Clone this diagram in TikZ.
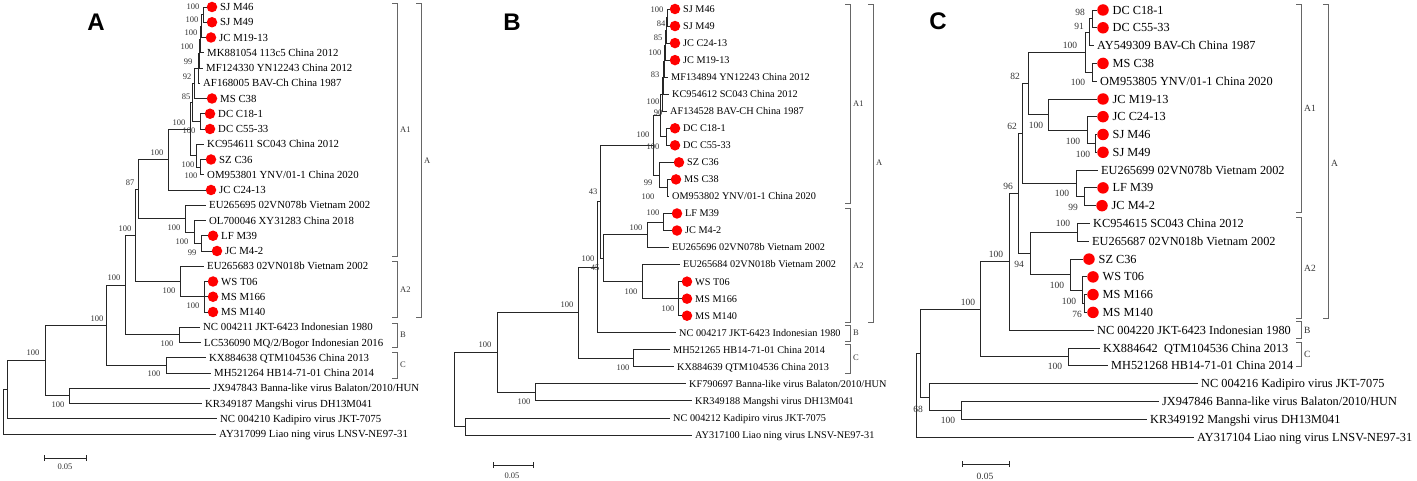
\documentclass[tikz,border=0pt]{standalone}
\usepackage{fontspec}
\setmainfont{Liberation Serif}
\newfontfamily\lettfont{Liberation Sans}
\newcounter{bsc}
\newcommand\ptip[5]{\coordinate (#1) at (#2,#3);\node[#5] (#1-t) at ([xshift=3pt]#1) {#4};}
\newcommand\dtip[6]{\node[#6] (#1-d) at (#2,#3) {};\coordinate (#1) at (#1-d.west);\node[#5] (#1-t) at ([xshift=\dgap]#1-d.center) {#4};}
\newcommand\kids[2]{\foreach \k in {#2}{\draw[br] (#1) |- (\k);}}
\newcommand\bs[4]{\stepcounter{bsc}\node[#1] (bs\thebsc) at (#2,#3) {#4};}
\newcommand\brk[3]{\draw[bk] (#1-5,#2) -- (#1,#2) -- (#1,#3) -- (#1-5,#3);}
\tikzset{
  br/.style={draw=black!85, line width=0.85pt},
  bk/.style={draw=black!60, line width=0.9pt},
  tA/.style={anchor=west, inner sep=0pt, text height=7.15pt, text depth=0pt, font=\fontsize{10.8}{12}\selectfont},
  tB/.style={anchor=west, inner sep=0pt, text height=6.8pt, text depth=0pt, font=\fontsize{10.25}{12}\selectfont},
  tC/.style={anchor=west, inner sep=0pt, text height=8.1pt, text depth=0pt, font=\fontsize{12.3}{14}\selectfont},
  nA/.style={inner sep=0pt, text=black!80, font=\fontsize{8.5}{9}\selectfont},
  nC/.style={inner sep=0pt, text=black!80, font=\fontsize{9.5}{10}\selectfont},
  cA/.style={anchor=west, inner sep=0pt, text=black!80, font=\fontsize{8.5}{9}\selectfont},
  cC/.style={anchor=west, inner sep=0pt, text=black!80, font=\fontsize{9.5}{10}\selectfont},
  dA/.style={circle, fill=red, draw=none, inner sep=0pt, minimum size=10.5pt},
  dC/.style={circle, fill=red, draw=none, inner sep=0pt, minimum size=11.5pt},
  letter/.style={inner sep=0pt, font=\lettfont\bfseries\fontsize{24}{24}\selectfont},
}
\begin{document}
\begin{tikzpicture}[x=1pt,y=-1pt]
\useasboundingbox (0,0) rectangle (1417,481);
% ================= Panel A =================
\node[letter] (LA) at (96,22) {A};
\def\dgap{8pt}
\dtip{a0}{212}{7}{SJ M46}{tA}{dA}
\dtip{a1}{212}{22.25}{SJ M49}{tA}{dA}
\dtip{a2}{211}{37.5}{JC M19-13}{tA}{dA}
\ptip{a3}{204}{52.75}{MK881054 113c5 China 2012}{tA}
\ptip{a4}{203}{68}{MF124330 YN12243 China 2012}{tA}
\ptip{a5}{200}{83.25}{AF168005 BAV-Ch China 1987}{tA}
\dtip{a6}{212}{98.5}{MS C38}{tA}{dA}
\dtip{a7}{210}{113.75}{DC C18-1}{tA}{dA}
\dtip{a8}{210}{129}{DC C55-33}{tA}{dA}
\ptip{a9}{204}{144.25}{KC954611 SC043 China 2012}{tA}
\dtip{a10}{211}{159.5}{SZ C36}{tA}{dA}
\ptip{a11}{204}{174.75}{OM953801 YNV/01-1 China 2020}{tA}
\dtip{a12}{211}{190}{JC C24-13}{tA}{dA}
\ptip{a13}{206}{205.25}{EU265695 02VN078b Vietnam 2002}{tA}
\ptip{a14}{206}{220.5}{OL700046 XY31283 China 2018}{tA}
\dtip{a15}{213}{235.75}{LF M39}{tA}{dA}
\dtip{a16}{217}{251}{JC M4-2}{tA}{dA}
\ptip{a17}{204}{266.25}{EU265683 02VN018b Vietnam 2002}{tA}
\dtip{a18}{213}{281.5}{WS T06}{tA}{dA}
\dtip{a19}{213}{296.75}{MS M166}{tA}{dA}
\dtip{a20}{213}{312}{MS M140}{tA}{dA}
\ptip{a21}{200}{327.25}{NC 004211 JKT-6423 Indonesian 1980}{tA}
\ptip{a22}{201}{342.5}{LC536090 MQ/2/Bogor Indonesian 2016}{tA}
\ptip{a23}{206}{357.75}{KX884638 QTM104536 China 2013}{tA}
\ptip{a24}{211}{373}{MH521264 HB14-71-01 China 2014}{tA}
\ptip{a25}{210}{388.25}{JX947843 Banna-like virus Balaton/2010/HUN}{tA}
\ptip{a26}{202}{403.5}{KR349187 Mangshi virus DH13M041}{tA}
\ptip{a27}{217}{418.75}{NC 004210 Kadipiro virus JKT-7075}{tA}
\ptip{a28}{216}{434}{AY317099 Liao ning virus LNSV-NE97-31}{tA}
\coordinate (an1) at (203,14.6);
\coordinate (an2) at (201,26.1);
\coordinate (an3) at (200,39.4);
\coordinate (an4) at (199,53.7);
\coordinate (an5) at (198,68.5);
\coordinate (an6) at (194,83.5);
\coordinate (aDC) at (200,121.4);
\coordinate (an7) at (192,102.5);
\coordinate (aKCi) at (200,167.1);
\coordinate (aKCo) at (196,155.7);
\coordinate (an8) at (190,129.1);
\coordinate (aA1) at (168,159.5);
\coordinate (aE2) at (201,243.4);
\coordinate (aE1) at (194,232);
\coordinate (aE) at (185,218.6);
\coordinate (a87) at (138,189);
\coordinate (aWS) at (204,296.75);
\coordinate (aA2) at (180,281.5);
\coordinate (aX3) at (135,235.3);
\coordinate (aB) at (179,334.9);
\coordinate (aX2) at (125,285.1);
\coordinate (aC) at (166,365.4);
\coordinate (aX1) at (106,325.2);
\coordinate (aBan) at (69,395.9);
\coordinate (a45) at (45,360.6);
\coordinate (aN0) at (7,389.7);
\coordinate (aR) at (3,411.8);
\kids{an1}{a0,a1}
\kids{an2}{an1,a2}
\kids{an3}{an2,a3}
\kids{an4}{an3,a4}
\kids{an5}{an4,a5}
\kids{an6}{an5,a6}
\kids{aDC}{a7,a8}
\kids{an7}{an6,aDC}
\kids{aKCi}{a10,a11}
\kids{aKCo}{a9,aKCi}
\kids{an8}{an7,aKCo}
\kids{aA1}{an8,a12}
\kids{aE2}{a15,a16}
\kids{aE1}{a14,aE2}
\kids{aE}{a13,aE1}
\kids{a87}{aA1,aE}
\kids{aWS}{a18,a19,a20}
\kids{aA2}{a17,aWS}
\kids{aX3}{a87,aA2}
\kids{aB}{a21,a22}
\kids{aX2}{aX3,aB}
\kids{aC}{a23,a24}
\kids{aX1}{aX2,aC}
\kids{aBan}{a25,a26}
\kids{a45}{aX1,aBan}
\kids{aN0}{a45,a27}
\kids{aR}{aN0,a28}
\bs{nA}{193}{7}{100}
\bs{nA}{192}{20}{100}
\bs{nA}{191}{33}{100}
\bs{nA}{187}{47}{100}
\bs{nA}{188}{62}{99}
\bs{nA}{187}{77}{92}
\bs{nA}{186}{97}{85}
\bs{nA}{179}{123}{100}
\bs{nA}{189}{131}{100}
\bs{nA}{157}{153}{100}
\bs{nA}{188}{165}{100}
\bs{nA}{191}{176}{100}
\bs{nA}{130}{183}{87}
\bs{nA}{174}{228}{100}
\bs{nA}{182}{242}{100}
\bs{nA}{192}{253}{99}
\bs{nA}{125}{229}{100}
\bs{nA}{169}{291}{100}
\bs{nA}{193}{306}{100}
\bs{nA}{114}{278}{100}
\bs{nA}{97}{319}{100}
\bs{nA}{167}{344}{100}
\bs{nA}{154}{374}{100}
\bs{nA}{33}{353}{100}
\bs{nA}{58}{405}{100}
\brk{397}{3}{256}
\brk{421}{3}{317}
\brk{397}{261}{317}
\brk{397}{323}{347}
\brk{397}{352}{378}
\node[cA] (aLA1) at (400,130) {A1};
\node[cA] (aLA) at (424,161) {A};
\node[cA] (aLA2) at (400,290) {A2};
\node[cA] (aLB) at (400,335) {B};
\node[cA] (aLC) at (400,365) {C};
\coordinate (as1) at (44,458);
\coordinate (as2) at (86,458);
\draw[br] (as1) -- (as2) ([yshift=-3pt]as1) -- ([yshift=3pt]as1) ([yshift=-3pt]as2) -- ([yshift=3pt]as2);
\node[nA] (asl) at (65,467) {0.05};
% ================= Panel B =================
\node[letter] (LB) at (512,22) {B};
\def\dgap{8pt}
\dtip{b0}{675}{9}{SJ M46}{tB}{dA}
\dtip{b1}{675}{26.04}{SJ M49}{tB}{dA}
\dtip{b2}{675}{43.08}{JC C24-13}{tB}{dA}
\dtip{b3}{675}{60.12}{JC M19-13}{tB}{dA}
\ptip{b4}{668}{77.16}{MF134894 YN12243 China 2012}{tB}
\ptip{b5}{669}{94.2}{KC954612 SC043 China 2012}{tB}
\ptip{b6}{667}{111.24}{AF134528 BAV-CH China 1987}{tB}
\dtip{b7}{675}{128.28}{DC C18-1}{tB}{dA}
\dtip{b8}{675}{145.32}{DC C55-33}{tB}{dA}
\dtip{b9}{679}{162.36}{SZ C36}{tB}{dA}
\dtip{b10}{676}{179.4}{MS C38}{tB}{dA}
\ptip{b11}{669}{196.44}{OM953802 YNV/01-1 China 2020}{tB}
\dtip{b12}{677}{213.48}{LF M39}{tB}{dA}
\dtip{b13}{677}{230.52}{JC M4-2}{tB}{dA}
\ptip{b14}{669}{247.56}{EU265696 02VN078b Vietnam 2002}{tB}
\ptip{b15}{680}{264.6}{EU265684 02VN018b Vietnam 2002}{tB}
\dtip{b16}{687}{281.64}{WS T06}{tB}{dA}
\dtip{b17}{687}{298.68}{MS M166}{tB}{dA}
\dtip{b18}{687}{315.72}{MS M140}{tB}{dA}
\ptip{b19}{676}{332.76}{NC 004217 JKT-6423 Indonesian 1980}{tB}
\ptip{b20}{670}{349.8}{MH521265 HB14-71-01 China 2014}{tB}
\ptip{b21}{674}{366.84}{KX884639 QTM104536 China 2013}{tB}
\ptip{b22}{686}{383.88}{KF790697 Banna-like virus Balaton/2010/HUN}{tB}
\ptip{b23}{692}{400.92}{KR349188 Mangshi virus DH13M041}{tB}
\ptip{b24}{670}{417.96}{NC 004212 Kadipiro virus JKT-7075}{tB}
\ptip{b25}{692}{435}{AY317100 Liao ning virus LNSV-NE97-31}{tB}
\coordinate (bn1) at (667,17.5);
\coordinate (bn2) at (666,30.3);
\coordinate (bn3) at (665,45.2);
\coordinate (bn4) at (664,61.2);
\coordinate (bn5) at (663,77.7);
\coordinate (bn6) at (662,94.5);
\coordinate (bDC) at (666,136.8);
\coordinate (bn7) at (660,115.6);
\coordinate (bMS) at (667,187.9);
\coordinate (bG2) at (659,175.1);
\coordinate (bA1) at (653,145.4);
\coordinate (bLF) at (663,222);
\coordinate (bLFE) at (647,234.8);
\coordinate (bWS) at (678,298.7);
\coordinate (bEWS) at (642,281.6);
\coordinate (bA2) at (603,258.2);
\coordinate (bA) at (600,201.8);
\coordinate (bAB) at (597,267.3);
\coordinate (bC) at (633,358.3);
\coordinate (bABC) at (578,312.8);
\coordinate (bBan) at (535,392.4);
\coordinate (bIn) at (497,352.6);
\coordinate (bOut) at (465,426.5);
\coordinate (bR) at (454,389.5);
\kids{bn1}{b0,b1}
\kids{bn2}{bn1,b2}
\kids{bn3}{bn2,b3}
\kids{bn4}{bn3,b4}
\kids{bn5}{bn4,b5}
\kids{bn6}{bn5,b6}
\kids{bDC}{b7,b8}
\kids{bn7}{bn6,bDC}
\kids{bMS}{b10,b11}
\kids{bG2}{b9,bMS}
\kids{bA1}{bn7,bG2}
\kids{bLF}{b12,b13}
\kids{bLFE}{bLF,b14}
\kids{bWS}{b16,b17,b18}
\kids{bEWS}{b15,bWS}
\kids{bA2}{bLFE,bEWS}
\kids{bA}{bA1,bA2}
\kids{bAB}{bA,b19}
\kids{bC}{b20,b21}
\kids{bABC}{bAB,bC}
\kids{bBan}{b22,b23}
\kids{bIn}{bABC,bBan}
\kids{bOut}{b24,b25}
\kids{bR}{bIn,bOut}
\bs{nA}{657}{10}{100}
\bs{nA}{661}{24}{84}
\bs{nA}{658}{38}{85}
\bs{nA}{655}{53}{100}
\bs{nA}{655}{75}{83}
\bs{nA}{653}{102}{100}
\bs{nA}{658}{113}{90}
\bs{nA}{653}{147}{100}
\bs{nA}{643}{135}{100}
\bs{nA}{648}{183}{99}
\bs{nA}{648}{197}{100}
\bs{nA}{653}{213}{100}
\bs{nA}{636}{228}{100}
\bs{nA}{593}{192}{43}
\bs{nA}{588}{259}{100}
\bs{nA}{595}{268}{45}
\bs{nA}{631}{292}{100}
\bs{nA}{668}{309}{100}
\bs{nA}{567}{305}{100}
\bs{nA}{623}{368}{100}
\bs{nA}{485}{345}{100}
\bs{nA}{524}{402}{100}
\brk{850}{4}{203}
\brk{873}{4}{322}
\brk{850}{208}{322}
\brk{850}{325}{341}
\brk{850}{344}{373}
\node[cA] (bLA1) at (853,104) {A1};
\node[cA] (bLA) at (876,163) {A};
\node[cA] (bLA2) at (853,266) {A2};
\node[cA] (bLB) at (853,333) {B};
\node[cA] (bLC) at (853,358) {C};
\coordinate (bs1) at (493,465);
\coordinate (bs2) at (533,465);
\draw[br] (bs1) -- (bs2) ([yshift=-3pt]bs1) -- ([yshift=3pt]bs1) ([yshift=-3pt]bs2) -- ([yshift=3pt]bs2);
\node[nA] (bsl) at (512,476) {0.05};
% ================= Panel C =================
\node[letter] (LC) at (938,21) {C};
\def\dgap{9.5pt}
\dtip{c0}{1103}{10}{DC C18-1}{tC}{dC}
\dtip{c1}{1103}{27.8}{DC C55-33}{tC}{dC}
\ptip{c2}{1094}{45.6}{AY549309 BAV-Ch China 1987}{tC}
\dtip{c3}{1103}{63.4}{MS C38}{tC}{dC}
\ptip{c4}{1097}{81.2}{OM953805 YNV/01-1 China 2020}{tC}
\dtip{c5}{1103}{99}{JC M19-13}{tC}{dC}
\dtip{c6}{1103}{116.7}{JC C24-13}{tC}{dC}
\dtip{c7}{1103}{134.5}{SJ M46}{tC}{dC}
\dtip{c8}{1103}{152.3}{SJ M49}{tC}{dC}
\ptip{c9}{1098}{170.1}{EU265699 02VN078b Vietnam 2002}{tC}
\dtip{c10}{1103}{187.9}{LF M39}{tC}{dC}
\dtip{c11}{1102}{205.7}{JC M4-2}{tC}{dC}
\ptip{c12}{1090}{223.5}{KC954615 SC043 China 2012}{tC}
\ptip{c13}{1089}{241.3}{EU265687 02VN018b Vietnam 2002}{tC}
\dtip{c14}{1089}{259.1}{SZ C36}{tC}{dC}
\dtip{c15}{1093}{276.9}{WS T06}{tC}{dC}
\dtip{c16}{1093}{294.6}{MS M166}{tC}{dC}
\dtip{c17}{1093}{312.4}{MS M140}{tC}{dC}
\ptip{c18}{1094}{330.2}{NC 004220 JKT-6423 Indonesian 1980}{tC}
\ptip{c19}{1100}{348}{KX884642~ QTM104536 China 2013}{tC}
\ptip{c20}{1108}{365.8}{MH521268 HB14-71-01 China 2014}{tC}
\ptip{c21}{1198}{383.6}{NC 004216 Kadipiro virus JKT-7075}{tC}
\ptip{c22}{1159}{401.4}{JX947846 Banna-like virus Balaton/2010/HUN}{tC}
\ptip{c23}{1147}{419.2}{KR349192 Mangshi virus DH13M041}{tC}
\ptip{c24}{1194}{437}{AY317104 Liao ning virus LNSV-NE97-31}{tC}
\coordinate (cDC) at (1092,18.9);
\coordinate (cDCA) at (1089,32.3);
\coordinate (cMS) at (1092,72.3);
\coordinate (cA1a) at (1085,52.3);
\coordinate (cSJ) at (1095,143.4);
\coordinate (cJC24) at (1087,130.1);
\coordinate (cJC) at (1048,114.5);
\coordinate (c82) at (1028,83.4);
\coordinate (cLF) at (1084,196.8);
\coordinate (cEU) at (1076,183.4);
\coordinate (c62) at (1022,133.4);
\coordinate (cKC) at (1077,232.4);
\coordinate (cMSM) at (1084,303.5);
\coordinate (cWS) at (1082,290.2);
\coordinate (cSZ) at (1070,274.6);
\coordinate (cA2) at (1030,253.5);
\coordinate (c96) at (1018,193.5);
\coordinate (cY) at (1009,261.8);
\coordinate (cC) at (1068,356.9);
\coordinate (cZ) at (980,309.4);
\coordinate (cBan) at (961,410.3);
\coordinate (cP) at (929,397);
\coordinate (cQ) at (920,353.2);
\coordinate (cR) at (916,395.1);
\kids{cDC}{c0,c1}
\kids{cDCA}{cDC,c2}
\kids{cMS}{c3,c4}
\kids{cA1a}{cDCA,cMS}
\kids{cSJ}{c7,c8}
\kids{cJC24}{c6,cSJ}
\kids{cJC}{c5,cJC24}
\kids{c82}{cA1a,cJC}
\kids{cLF}{c10,c11}
\kids{cEU}{c9,cLF}
\kids{c62}{c82,cEU}
\kids{cKC}{c12,c13}
\kids{cMSM}{c16,c17}
\kids{cWS}{c15,cMSM}
\kids{cSZ}{c14,cWS}
\kids{cA2}{cKC,cSZ}
\kids{c96}{c62,cA2}
\kids{cY}{c96,c18}
\kids{cC}{c19,c20}
\kids{cZ}{cY,cC}
\kids{cBan}{c22,c23}
\kids{cP}{c21,cBan}
\kids{cQ}{cZ,cP}
\kids{cR}{cQ,c24}
\bs{nC}{1080}{12}{98}
\bs{nC}{1079}{26}{91}
\bs{nC}{1070}{45}{100}
\bs{nC}{1078}{82}{100}
\bs{nC}{1015}{76}{82}
\bs{nC}{1012}{126}{62}
\bs{nC}{1036}{125}{100}
\bs{nC}{1073}{141}{100}
\bs{nC}{1083}{154}{100}
\bs{nC}{1008}{186}{96}
\bs{nC}{1062}{193}{100}
\bs{nC}{1073}{207}{99}
\bs{nC}{1063}{223}{100}
\bs{nC}{1019}{264}{94}
\bs{nC}{1057}{285}{100}
\bs{nC}{1069}{301}{100}
\bs{nC}{1077}{314}{76}
\bs{nC}{996}{254}{100}
\bs{nC}{968}{302}{100}
\bs{nC}{1055}{366}{100}
\bs{nC}{918}{409}{68}
\bs{nC}{948}{420}{100}
\brk{1301}{4}{212}
\brk{1328}{4}{318}
\brk{1301}{217}{318}
\brk{1301}{321}{338}
\brk{1301}{342}{366}
\node[cC] (cLA1) at (1304,108) {A1};
\node[cC] (cLA) at (1331,163) {A};
\node[cC] (cLA2) at (1304,268) {A2};
\node[cC] (cLB) at (1304,330) {B};
\node[cC] (cLC) at (1304,354) {C};
\coordinate (cs1) at (962,464);
\coordinate (cs2) at (1009,464);
\draw[br] (cs1) -- (cs2) ([yshift=-3pt]cs1) -- ([yshift=3pt]cs1) ([yshift=-3pt]cs2) -- ([yshift=3pt]cs2);
\node[nC] (csl) at (985,476) {0.05};
\end{tikzpicture}
\end{document}
